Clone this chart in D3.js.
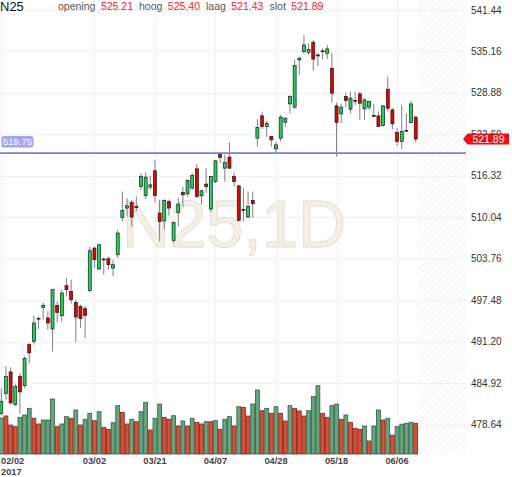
<!DOCTYPE html>
<html><head><meta charset="utf-8">
<script src="https://cdn.jsdelivr.net/npm/d3@7/dist/d3.min.js"></script>
<style>html,body{margin:0;padding:0;background:#fff}svg{display:block}</style>
</head><body><div id="chart"></div>
<script>
const symbol = "N25";
const period = "1D";
const dates = [
"2017-02-02","2017-02-03","2017-02-06","2017-02-07","2017-02-08","2017-02-09","2017-02-10","2017-02-13","2017-02-14","2017-02-15",
"2017-02-16","2017-02-17","2017-02-20","2017-02-21","2017-02-22","2017-02-23","2017-02-24","2017-02-27","2017-02-28","2017-03-01",
"2017-03-02","2017-03-03","2017-03-06","2017-03-07","2017-03-08","2017-03-09","2017-03-10","2017-03-13","2017-03-14","2017-03-15",
"2017-03-16","2017-03-17","2017-03-20","2017-03-21","2017-03-22","2017-03-23","2017-03-24","2017-03-27","2017-03-28","2017-03-29",
"2017-03-30","2017-03-31","2017-04-03","2017-04-04","2017-04-05","2017-04-06","2017-04-07","2017-04-10","2017-04-11","2017-04-12",
"2017-04-13","2017-04-18","2017-04-19","2017-04-20","2017-04-21","2017-04-24","2017-04-25","2017-04-26","2017-04-27","2017-04-28",
"2017-05-02","2017-05-03","2017-05-04","2017-05-05","2017-05-08","2017-05-09","2017-05-10","2017-05-11","2017-05-12","2017-05-15",
"2017-05-16","2017-05-17","2017-05-18","2017-05-19","2017-05-22","2017-05-23","2017-05-24","2017-05-25","2017-05-26","2017-05-29",
"2017-05-30","2017-05-31","2017-06-01","2017-06-02","2017-06-05","2017-06-06","2017-06-07","2017-06-08","2017-06-09","2017-06-12"];
const opens = [480.30,483.33,486.61,481.66,485.94,484.54,490.74,491.24,494.63,496.39,
494.78,493.12,496.69,495.13,499.67,498.81,497.14,496.54,496.19,498.96,
505.37,502.20,503.70,503.76,502.35,504.36,510.01,511.43,512.28,511.65,
514.70,513.34,514.61,517.08,510.67,509.48,512.43,506.53,510.76,513.79,
513.59,514.45,517.38,513.29,515.06,511.28,515.45,519.60,517.48,519.15,
516.21,514.80,511.20,510.07,512.58,522.02,525.40,523.78,522.26,520.40,
522.02,524.44,527.21,526.72,533.87,535.13,535.03,536.55,534.63,535.25,
534.89,532.62,526.91,525.70,528.32,526.41,527.75,528.73,526.46,526.72,
525.45,525.40,523.93,529.44,526.31,522.87,521.51,523.20,524.38,525.21];
const highs = [484.08,487.46,487.31,484.84,486.46,488.97,491.00,495.13,495.02,497.14,
495.78,499.17,497.29,499.07,500.83,500.58,497.55,496.79,496.54,505.53,
505.53,505.95,503.95,504.10,503.60,508.15,513.94,512.94,512.69,513.18,
516.72,516.82,516.32,518.74,512.69,512.79,512.69,509.40,512.94,514.70,
515.82,516.72,518.09,514.20,517.48,516.32,518.74,519.75,519.49,521.36,
516.82,514.95,514.45,513.94,513.94,524.90,526.05,524.64,522.37,521.51,
525.55,525.20,528.58,533.87,534.37,537.66,536.40,536.90,534.89,535.64,
536.14,534.89,527.41,527.21,528.92,529.07,529.07,529.07,528.08,527.71,
527.21,526.05,527.06,531.34,526.56,523.54,527.06,525.81,527.71,525.40];
const lows = [480.00,482.42,481.66,481.40,480.25,484.19,487.87,490.74,493.12,494.52,
493.01,489.73,494.12,494.27,498.05,496.95,491.09,493.27,491.75,498.66,
502.35,502.09,501.33,502.09,501.08,503.86,509.40,510.16,508.64,510.92,
514.20,512.79,514.20,512.28,506.37,508.15,510.26,506.13,508.64,511.67,
513.18,514.20,512.94,511.93,513.70,510.76,515.21,518.24,515.45,517.33,
514.70,509.40,509.40,509.91,509.91,520.75,523.38,522.26,520.75,519.84,
521.51,523.69,525.80,526.41,531.60,534.78,534.63,532.25,532.96,533.98,
533.98,527.41,519.24,524.29,526.72,525.80,527.06,524.79,524.79,526.31,
525.20,523.69,523.78,526.05,523.38,520.86,520.36,523.02,524.29,521.43];
const closes = [482.16,485.94,481.92,484.43,483.58,488.62,489.49,494.02,494.72,496.69,
494.02,499.07,495.63,498.56,499.07,497.55,494.93,494.68,495.18,504.97,
503.60,505.87,503.60,502.85,502.85,507.65,511.07,511.78,510.07,511.55,
516.21,516.12,514.95,513.34,509.40,512.58,511.43,509.25,512.03,513.44,
515.60,516.36,513.18,514.05,514.70,516.21,518.59,519.09,518.33,517.48,
515.45,509.55,511.15,511.67,512.08,523.63,523.78,524.29,521.77,521.01,
525.20,525.05,528.32,533.01,534.13,536.14,535.49,534.00,534.48,535.20,
535.54,528.83,524.38,526.72,527.71,528.08,527.70,527.32,527.82,527.56,
525.40,523.78,526.91,526.56,524.19,521.51,523.02,523.15,527.21,521.89];
const volumes = [36,38,29,27.3,36.7,39,45.7,35.7,30,34,
34,55,27.3,30,37.3,35.7,44,29,34.7,40.7,
33.3,42.3,26.7,24.7,31.3,48.3,41.7,30,34.7,32.3,
42.3,51.7,24,35.7,50,36.7,34.7,38.3,28,33,
28,35.7,31.7,30,32.3,32.3,33.3,24.7,34.7,37.3,
28,47.3,46.7,38,50,64,43.3,45.7,40.7,47.3,
40.7,33,48.3,45.7,43,38,43.3,57.5,68.3,40.7,
36.5,48.3,50,34.7,39,31.5,25.7,24.7,28,13,
28,44,34,35.7,18.8,27.3,29.8,30.7,31.7,30.7];
const volumeUp = [1,0,0,0,1,1,1,0,0,1, 1,1,0,1,1,0,1,0,1,1, 0,1,0,0,1,1,0,0,1,0,
1,1,0,1,1,0,0,1,0,1, 0,1,0,0,1,0,1,0,1,1, 0,1,0,0,1,1,0,1,0,1,
0,0,1,0,0,0,1,1,1,0, 0,1,1,0,1,0,0,0,1,0, 1,1,0,1,0,1,1,1,1,0];
const priceTicks = [478.64,484.92,491.20,497.48,503.76,510.04,516.32,522.60,528.88,535.16,541.44];
const dateTicks = ["2017-02-02","2017-03-02","2017-03-21","2017-04-07","2017-04-28","2017-05-18","2017-06-06"];
const refLevel = 519.75;
const headerLabels = ["opening","hoog","laag","slot"];

const W = 512, H = 477;
const plotRight = 466, volBase = 454;
const FONT = "'Liberation Sans', Arial, sans-serif";

const svg = d3.select("#chart").append("svg").attr("width", W).attr("height", H)
  .style("font-family", FONT);

const x = d3.scaleBand().domain(dates).range([-1.03, 418.03]).paddingInner(0).paddingOuter(0);
const xc = d => x(d) + x.bandwidth() / 2;
const y = d3.scaleLinear().domain([478.64, 541.44]).range([424.5, 10]);
const yv = d3.scaleLinear().domain([0, 100]).range([volBase, volBase - 100]);

const data = dates.map((d, i) => ({d, o: opens[i], h: highs[i], l: lows[i], c: closes[i], v: volumes[i], up: volumeUp[i]}));

// hatch pattern
const defs = svg.append("defs");
const pat = defs.append("pattern").attr("id", "hatch").attr("patternUnits", "userSpaceOnUse")
  .attr("width", 4.5).attr("height", 4.5).attr("patternTransform", "rotate(45)");
pat.append("line").attr("x1", 0).attr("y1", 0).attr("x2", 0).attr("y2", 4.5)
  .attr("stroke", "#ececec").attr("stroke-width", 1);
const lastX = x(dates[dates.length - 1]) + x.bandwidth();
svg.append("rect").attr("x", lastX).attr("y", 0).attr("width", plotRight - lastX).attr("height", volBase)
  .attr("fill", "url(#hatch)");

// grid
svg.append("g").selectAll("line").data(priceTicks).join("line")
  .attr("x1", 0).attr("x2", plotRight).attr("y1", d => Math.round(y(d)) + 0.5).attr("y2", d => Math.round(y(d)) + 0.5)
  .attr("stroke", "#f1f1f1").attr("stroke-width", 1);
svg.append("g").selectAll("line").data(dateTicks).join("line")
  .attr("x1", d => Math.round(xc(d)) + 0.5).attr("x2", d => Math.round(xc(d)) + 0.5)
  .attr("y1", 0).attr("y2", volBase)
  .attr("stroke", "#f1f1f1").attr("stroke-width", 1);

// watermark
svg.append("text").attr("x", 234).attr("y", 247).attr("text-anchor", "middle")
  .attr("font-size", 66).attr("fill", "#f3f0e8").attr("stroke", "#e4e0d3").attr("stroke-width", 1)
  .text(symbol + "," + period);

// volume
svg.append("g").selectAll("rect").data(data).join("rect")
  .attr("x", d => x(d.d) + 0.4).attr("width", x.bandwidth() - 0.8)
  .attr("y", d => yv(d.v)).attr("height", d => volBase - yv(d.v))
  .attr("fill", d => d.up ? "#68a47f" : "#d8503a")
  .attr("stroke", d => d.up ? "#2e5e40" : "#7e2414").attr("stroke-width", 0.8);

// candles
const cg = svg.append("g");
cg.selectAll("line").data(data).join("line")
  .attr("x1", d => xc(d.d)).attr("x2", d => xc(d.d))
  .attr("y1", d => y(d.h)).attr("y2", d => y(d.l))
  .attr("stroke", "#808080").attr("stroke-width", 1);
cg.selectAll("rect").data(data).join("rect")
  .attr("x", d => xc(d.d) - 1.5).attr("width", 3)
  .attr("y", d => y(Math.max(d.o, d.c)))
  .attr("height", d => Math.max(0.8, Math.abs(y(d.o) - y(d.c))))
  .attr("fill", d => d.c >= d.o ? "#22d05c" : "#e60000")
  .attr("stroke", "#1a1a1a").attr("stroke-width", 0.7);

// reference level line
svg.append("line").attr("x1", 0).attr("x2", plotRight).attr("y1", y(refLevel)).attr("y2", y(refLevel))
  .attr("stroke", "#7d7dd6").attr("stroke-width", 1.6);
svg.append("rect").attr("x", 1.5).attr("y", 136).attr("width", 32).attr("height", 11.5).attr("rx", 2.5)
  .attr("fill", "#a5a5f3");
svg.append("text").attr("x", 17.5).attr("y", 141.8).attr("dy", "0.35em").attr("text-anchor", "middle")
  .attr("font-size", 9.5).attr("fill", "#fff").text(refLevel.toFixed(2));

// y axis labels
svg.append("g").selectAll("text").data(priceTicks).join("text")
  .attr("x", 471).attr("y", d => y(d)).attr("dy", "0.35em")
  .attr("font-size", 10).attr("fill", "#333").text(d => d.toFixed(2));

// last price label
const last = data[data.length - 1];
const ly = y(last.c);
svg.append("path").attr("d", `M${463},${ly} L${467.5},${ly - 5.5} L${509},${ly - 5.5} L${509},${ly + 5.5} L${467.5},${ly + 5.5} Z`)
  .attr("fill", "#ee1111");
svg.append("text").attr("x", 488.5).attr("y", ly).attr("dy", "0.35em").attr("text-anchor", "middle")
  .attr("font-size", 10.5).attr("fill", "#fff").text(last.c.toFixed(2));

// date labels
const fmt = d3.timeFormat("%m/%d");
const parse = d3.timeParse("%Y-%m-%d");
svg.append("g").selectAll("text").data(dateTicks).join("text")
  .attr("x", (d, i) => i === 0 ? 1 : xc(d)).attr("y", 463.5)
  .attr("text-anchor", (d, i) => i === 0 ? "start" : "middle")
  .attr("font-size", 9.3).attr("font-weight", "bold").attr("fill", "#444")
  .text(d => fmt(parse(d)));
svg.append("text").attr("x", 1).attr("y", 474.5).attr("font-size", 9.3).attr("font-weight", "bold").attr("fill", "#444")
  .text(d3.timeFormat("%Y")(parse(dateTicks[0])));

// header
svg.append("text").attr("x", 0).attr("y", 11).attr("font-size", 13).attr("fill", "#111").text(symbol);
const hv = [last.o, last.h, last.l, last.c];
let hx = 58;
headerLabels.forEach((lab, i) => {
  const t1 = svg.append("text").attr("x", hx).attr("y", 10).attr("font-size", 10.5).attr("fill", "#555").text(lab);
  hx += t1.node().getComputedTextLength() + 5.5;
  const t2 = svg.append("text").attr("x", hx).attr("y", 10).attr("font-size", 10.5).attr("fill", "#f22").text(hv[i].toFixed(2));
  hx += t2.node().getComputedTextLength() + 6;
});
</script></body></html>
